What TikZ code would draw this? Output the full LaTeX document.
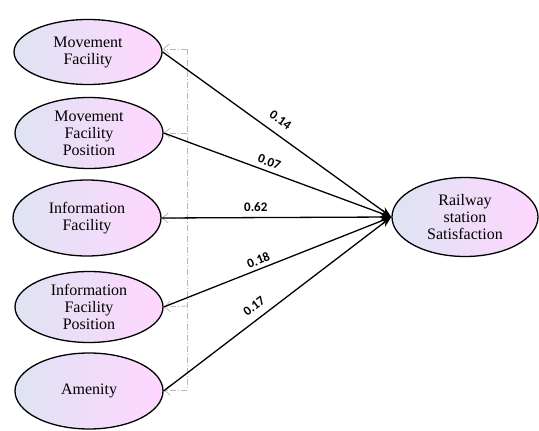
\documentclass[tikz,border=0pt]{standalone}
\usepackage{fontspec}
\setmainfont{Liberation Serif}
\newfontfamily\lblfont{Carlito}
\usetikzlibrary{shapes.geometric,arrows.meta}
\begin{document}
\begin{tikzpicture}[x=1pt,y=-1pt,
  latent/.style={ellipse,draw=black,line width=1.3pt,minimum width=148pt,inner sep=0pt,
    left color={rgb,255:red,222;green,228;blue,242},right color={rgb,255:red,255;green,214;blue,255},
    align=center,font=\fontsize{16}{17}\selectfont},
  path/.style={line width=1.3pt,-{Stealth[length=11pt,width=8pt]}},
  coef/.style={font=\lblfont\bfseries\fontsize{13}{13}\selectfont,sloped,inner sep=0pt},
  corr/.style={draw=gray!55,line width=0.8pt,dash pattern=on 6pt off 2pt on 1pt off 2pt},
  corrtip/.style={corr,-{Straight Barb[length=6pt,width=10pt,line width=0.8pt]}}]
\useasboundingbox (0,0) rectangle (539,431);
\node[latent,minimum height=65pt] (e1) at (88,52) {Movement\\Facility};
\node[latent,minimum height=71pt] (e2) at (89,133) {Movement\\Facility\\Position};
\node[latent,minimum height=76pt] (e3) at (87,218) {Information\\Facility};
\node[latent,minimum height=71pt] (e4) at (89,307) {Information\\Facility\\Position};
\node[latent,minimum height=76pt] (e5) at (89,391) {Amenity};
\node[latent,minimum width=146pt,minimum height=79pt] (rs) at (465,217) {Railway\\station\\Satisfaction};
% correlation bracket
\coordinate (gtop) at (187,49);
\coordinate (gbot) at (187,390);
\coordinate (g2) at (187,133);
\coordinate (g3) at (187,218);
\coordinate (g4) at (187,306);
\draw[corr] (gtop) -- (gbot);
\draw[corrtip] (gtop) -- (e1.east |- gtop);
\draw[corrtip] (g2) -- (e2.east);
\draw[corrtip] (g3) -- (e3.east);
\draw[corrtip] (g4) -- (e4.east);
\draw[corrtip] (gbot) -- (e5.east |- gbot);
% paths
\draw[path] (e1.east) -- node[coef,pos=0.48,above=9pt] {0.14} (rs.west);
\draw[path] (e2.east) -- node[coef,pos=0.45,above=4.5pt] {0.07} (rs.west);
\draw[path] (e3.east) -- node[coef,pos=0.41,above=5pt] {0.62} (rs.west);
\draw[path] (e4.east) -- node[coef,pos=0.43,above=3.5pt] {0.18} (rs.west);
\draw[path] (e5.east) -- node[coef,pos=0.43,above=7.5pt] {0.17} (rs.west);
\end{tikzpicture}
\end{document}
